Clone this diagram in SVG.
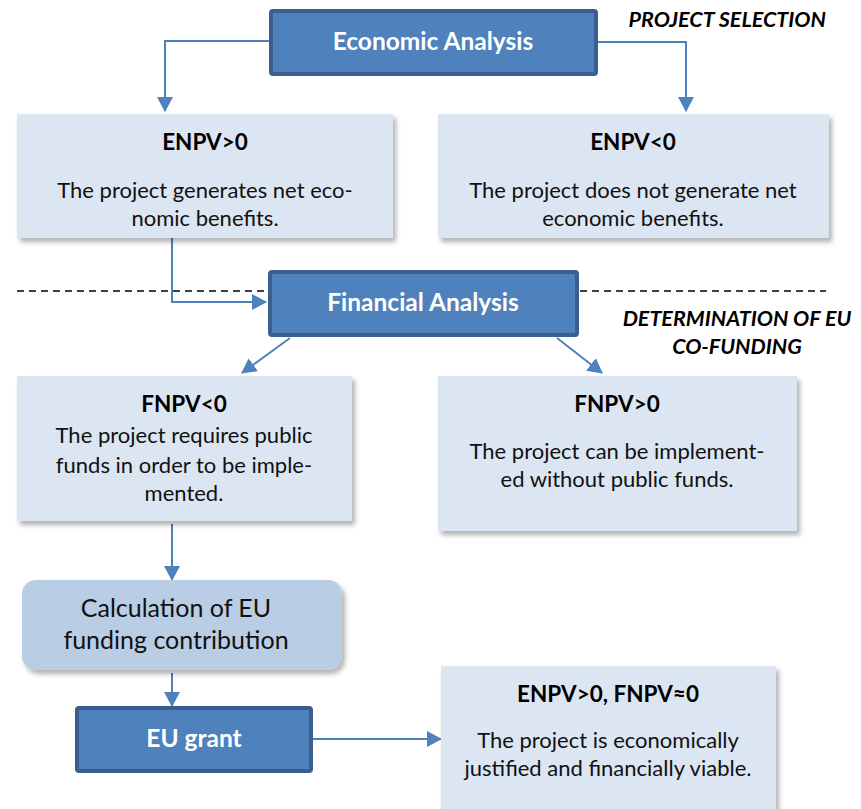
<svg xmlns="http://www.w3.org/2000/svg" width="861" height="809" viewBox="0 0 861 809">
<style>
.dark{fill:#4F81BD;stroke:#3A5F8E;stroke-width:4}
.light{fill:#DCE6F2;filter:url(#sh)}
.calc{fill:#B9CDE5;filter:url(#sh)}
.wt{font-family:Lato,"Open Sans",sans-serif;font-weight:bold;fill:#fff;font-size:24.5px;text-anchor:middle}
.bt{font-family:Lato,"Open Sans",sans-serif;font-weight:bold;fill:#000;font-size:22.5px;text-anchor:middle}
.t{font-family:Lato,"Open Sans",sans-serif;fill:#111;font-size:22px;text-anchor:middle}
.ct{font-family:Lato,"Open Sans",sans-serif;fill:#111;font-size:25px;text-anchor:middle}
.it{font-family:Lato,"Open Sans",sans-serif;font-weight:bold;font-style:italic;fill:#000;font-size:21.5px}
.c{fill:none;stroke:#4F81BD;stroke-width:2}
.dash{stroke:#000;stroke-width:1.3;stroke-dasharray:7,5;fill:none}
</style>
<defs>
<filter id="sh" x="-10%" y="-10%" width="130%" height="130%">
<feDropShadow dx="3" dy="4" stdDeviation="2.5" flood-color="#000" flood-opacity="0.3"/>
</filter>
<marker id="ab" markerWidth="16" markerHeight="16" refX="14" refY="8" orient="auto" markerUnits="userSpaceOnUse">
<path d="M0,0 L15,8 L0,16 z" fill="#4F81BD"/>
</marker>
</defs>

<g id="dividers">
<line class="dash" x1="17" y1="291" x2="270" y2="291"/>
<line class="dash" x1="580" y1="291" x2="826" y2="291"/>
</g>

<g id="connectors">
<path class="c" d="M269,41 H165 V111" marker-end="url(#ab)"/>
<path class="c" d="M598,42 H686 V111" marker-end="url(#ab)"/>
<path class="c" d="M172,238 V302 H266" marker-end="url(#ab)"/>
<path class="c" d="M290,338 L242,373" marker-end="url(#ab)"/>
<path class="c" d="M557,338 L602,373" marker-end="url(#ab)"/>
<path class="c" d="M172,524 V580" marker-end="url(#ab)"/>
<path class="c" d="M172,673 V706" marker-end="url(#ab)"/>
<path class="c" d="M313,739 H441" marker-end="url(#ab)"/>
</g>

<g id="economic">
<rect class="dark" x="271" y="11" width="325" height="63" rx="2"/>
<text class="wt" x="433" y="50">Economic Analysis</text>
</g>

<g id="label-selection">
<text class="it" x="826" y="27" text-anchor="end">PROJECT SELECTION</text>
</g>

<g id="enpv-pos">
<rect class="light" x="17" y="114" width="376" height="124"/>
<text class="bt" x="205" y="150">ENPV&gt;0</text>
<text class="t" x="205" y="198">The project generates net eco-</text>
<text class="t" x="205" y="226">nomic benefits.</text>
</g>

<g id="enpv-neg">
<rect class="light" x="438" y="114" width="391" height="124"/>
<text class="bt" x="633" y="150">ENPV&lt;0</text>
<text class="t" x="633" y="198">The project does not generate net</text>
<text class="t" x="633" y="226">economic benefits.</text>
</g>

<g id="financial">
<rect class="dark" x="270" y="272" width="307" height="63" rx="2"/>
<text class="wt" x="423" y="311">Financial Analysis</text>
</g>

<g id="label-determination">
<text class="it" x="737" y="326" text-anchor="middle">DETERMINATION OF EU</text>
<text class="it" x="737" y="354" text-anchor="middle">CO-FUNDING</text>
</g>

<g id="fnpv-neg">
<rect class="light" x="17" y="376" width="335" height="145"/>
<text class="bt" x="184" y="412">FNPV&lt;0</text>
<text class="t" x="184" y="443">The project requires public</text>
<text class="t" x="184" y="473">funds in order to be imple-</text>
<text class="t" x="184" y="501">mented.</text>
</g>

<g id="fnpv-pos">
<rect class="light" x="438" y="376" width="359" height="155"/>
<text class="bt" x="617" y="412">FNPV&gt;0</text>
<text class="t" x="617" y="459">The project can be implement-</text>
<text class="t" x="617" y="487">ed without public funds.</text>
</g>

<g id="calculation">
<rect class="calc" x="22" y="580" width="320" height="90" rx="14"/>
<text class="ct" x="176" y="617">Calculation of EU</text>
<text class="ct" x="176" y="649">funding contribution</text>
</g>

<g id="eu-grant">
<rect class="dark" x="77" y="708" width="234" height="63" rx="2"/>
<text class="wt" x="194" y="747">EU grant</text>
</g>

<g id="result">
<rect class="light" x="441" y="666" width="335" height="150"/>
<text class="bt" x="608" y="702">ENPV&gt;0, FNPV≈0</text>
<text class="t" x="608" y="748">The project is economically</text>
<text class="t" x="608" y="776">justified and financially viable.</text>
</g>
</svg>
